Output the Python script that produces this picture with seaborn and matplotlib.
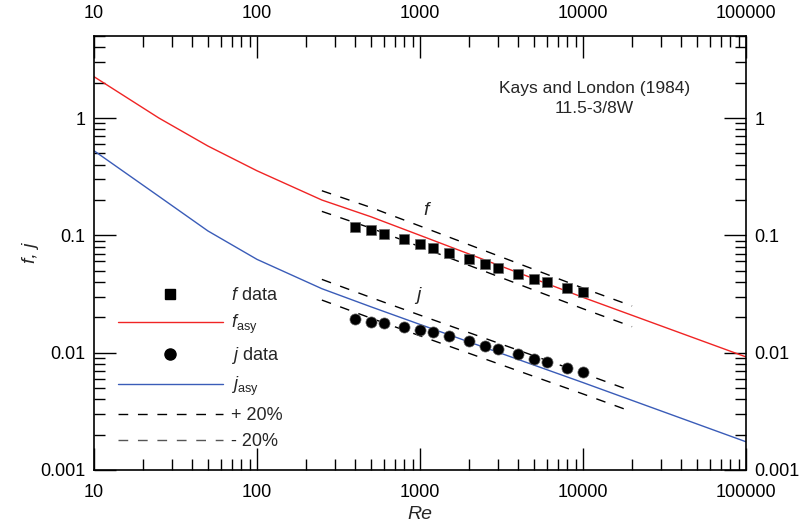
import numpy as np
import pandas as pd
import seaborn as sns
import matplotlib
matplotlib.use("Agg")
import matplotlib.pyplot as plt
from matplotlib.lines import Line2D
from matplotlib.ticker import FixedLocator, FuncFormatter, LogLocator, NullFormatter

# data
re_data = [400, 500, 600, 800, 1000, 1200, 1500, 2000, 2500, 3000, 4000, 5000, 6000, 8000, 10000]
f_data = [0.118, 0.111, 0.103, 0.0924, 0.0843, 0.0779, 0.0702, 0.0624, 0.0566, 0.0529,
          0.0465, 0.0427, 0.0397, 0.0357, 0.0329]
j_data = [0.0192, 0.0183, 0.0178, 0.0166, 0.0157, 0.0149, 0.0139, 0.0126, 0.0115, 0.0107,
          0.00967, 0.00887, 0.00831, 0.00739, 0.00688]

re_asy = [10, 25, 50, 100, 250, 500, 1000, 10000, 100000]
f_asy = [2.25, 1.0, 0.577, 0.355, 0.2, 0.144, 0.1, 0.0296, 0.0092]
j_asy = [0.526, 0.215, 0.109, 0.0624, 0.0351, 0.0246, 0.0174, 0.00556, 0.00174]

band_lo, band_hi = 250, 20000

sns.set_style("ticks")
plt.rcParams['font.family'] = ['Liberation Sans', 'DejaVu Sans']
plt.rcParams['mathtext.fontset'] = 'custom'
plt.rcParams['mathtext.rm'] = 'Liberation Sans'
plt.rcParams['mathtext.it'] = 'Liberation Sans:italic'
plt.rcParams['font.size'] = 12

red = '#f02424'
blue = '#3a5cb8'


def band(re_pts, vals, factor):
    ''' +/- band around an asymptote, restricted to the band range '''
    lre = np.log10(re_pts)
    grid = [r for r in re_pts if band_lo < r < band_hi]
    grid = np.array([band_lo] + grid + [band_hi], dtype=float)
    y = 10 ** np.interp(np.log10(grid), lre, np.log10(vals))
    return pd.DataFrame({'Re': grid, 'v': y * factor})


fig = plt.figure(figsize=(7.99, 5.25), dpi=100)
ax = fig.add_axes([94 / 799, 1 - 470 / 525, (746 - 94) / 799, (470 - 36) / 525])
ax.set_xscale('log')
ax.set_yscale('log')

asy = pd.DataFrame({'Re': re_asy, 'f': f_asy, 'j': j_asy})
pts = pd.DataFrame({'Re': re_data, 'f': f_data, 'j': j_data})

sns.lineplot(data=asy, x='Re', y='f', color=red, lw=1.0, estimator=None, sort=False, ax=ax)
sns.lineplot(data=asy, x='Re', y='j', color=blue, lw=1.0, estimator=None, sort=False, ax=ax)

dash = (0, (7, 7))
for vals in (f_asy, j_asy):
    for fac in (1.2, 0.8):
        d = band(re_asy, vals, fac)
        sns.lineplot(data=d, x='Re', y='v', color='black', lw=1.0, linestyle=dash,
                     estimator=None, sort=False, ax=ax)

sns.scatterplot(data=pts, x='Re', y='f', marker='s', s=60, color='black',
                edgecolor='#666666', linewidth=0.5, ax=ax, zorder=5)
sns.scatterplot(data=pts, x='Re', y='j', marker='o', s=64, color='black',
                edgecolor='#666666', linewidth=0.5, ax=ax, zorder=5)

ax.set_xlim(10, 100000)
ax.set_ylim(0.001, 5)

fmt = FuncFormatter(lambda v, _: f"{v:g}")
ax.xaxis.set_major_locator(FixedLocator([10, 100, 1000, 10000, 100000]))
ax.yaxis.set_major_locator(FixedLocator([0.001, 0.01, 0.1, 1]))
ax.xaxis.set_major_formatter(fmt)
ax.yaxis.set_major_formatter(fmt)
ax.xaxis.set_minor_locator(LogLocator(base=10, subs=np.arange(2, 10), numticks=20))
ax.yaxis.set_minor_locator(LogLocator(base=10, subs=np.arange(2, 10), numticks=20))
ax.xaxis.set_minor_formatter(NullFormatter())
ax.yaxis.set_minor_formatter(NullFormatter())

ax.tick_params(which='both', direction='in', top=True, right=True,
               labeltop=True, labelright=True, colors='black', labelsize=13)
ax.tick_params(which='major', length=16, width=1.0)
ax.tick_params(which='minor', length=8, width=1.0)
ax.tick_params(axis='x', which='major', pad=10)
ax.tick_params(axis='y', which='major', pad=6)
for sp in ax.spines.values():
    sp.set_visible(True)
    sp.set_linewidth(1.2)
    sp.set_color('black')

ax.set_xlabel('Re', fontstyle='italic', fontsize=14, labelpad=4)
ax.set_ylabel('f, j', fontstyle='italic', fontsize=14, labelpad=1)

ax.text(0.767, 0.856, 'Kays and London (1984)\n11.5-3/8W', transform=ax.transAxes,
        ha='center', va='center', fontsize=12.5, linespacing=1.45)
ax.text(0.510, 0.597, 'f', transform=ax.transAxes, ha='center', va='center',
        fontstyle='italic', fontsize=14)
ax.text(0.497, 0.403, 'j', transform=ax.transAxes, ha='center', va='center',
        fontstyle='italic', fontsize=14)

handles = [
    Line2D([], [], ls='none', marker='s', ms=7.5, color='black'),
    Line2D([], [], color=red, lw=1.0),
    Line2D([], [], ls='none', marker='o', ms=8, color='black'),
    Line2D([], [], color=blue, lw=1.0),
    Line2D([], [], color='black', lw=1.0, ls=dash),
    Line2D([], [], color='#555555', lw=1.0, ls=dash),
]
labels = [r'$f$ data', r'$f_{\mathrm{asy}}$', r'$j$ data', r'$j_{\mathrm{asy}}$',
          '+ 20%', '- 20%']
ax.legend(handles, labels, loc='upper left', bbox_to_anchor=(0.037, 0.422),
          frameon=False, fontsize=13, handlelength=5.8, handletextpad=0.45,
          labelspacing=0.5, borderpad=0, borderaxespad=0)

fig.savefig('out.png', dpi=100)
